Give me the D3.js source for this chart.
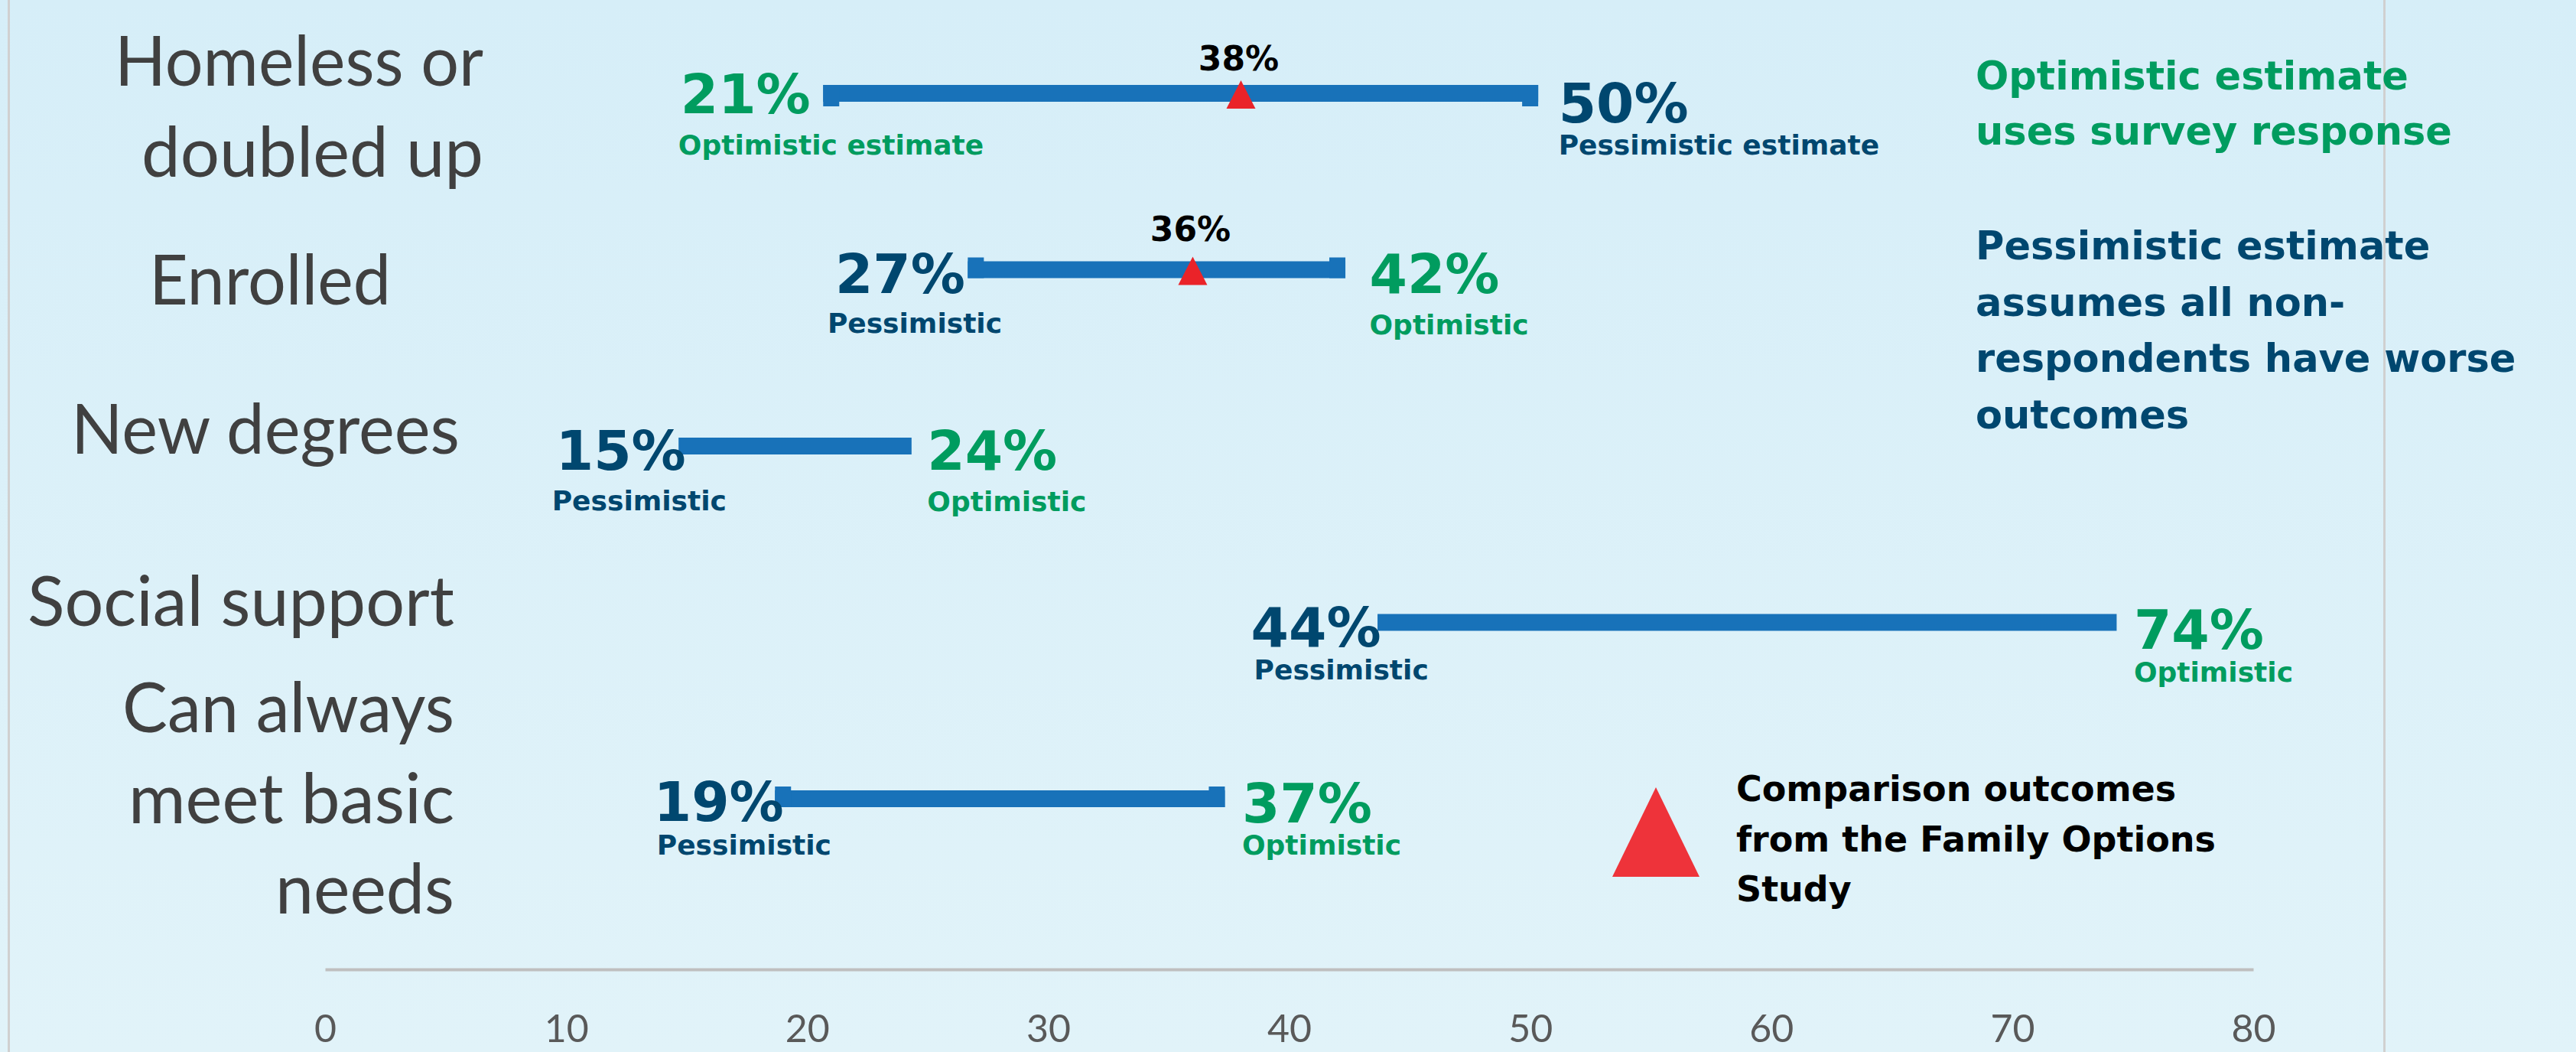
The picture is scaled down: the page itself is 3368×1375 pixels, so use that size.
<!DOCTYPE html>
<html>
<head>
<meta charset="utf-8">
<script src="https://cdn.jsdelivr.net/npm/d3@7"></script>
<style>
  html, body { margin: 0; padding: 0; background: #dbf0f8; }
  svg { display: block; }
</style>
</head>
<body>
<svg id="chart" width="3368" height="1375"></svg>
<script>
// ---------------- DATA ----------------
const categories = ["Homeless or doubled up", "Enrolled", "New degrees", "Social support", "Can always meet basic needs"];
const categoryLines = [["Homeless or", "doubled up"], ["Enrolled"], ["New degrees"], ["Social support"], ["Can always", "meet basic", "needs"]];
const optimistic = [21, 42, 24, 74, 37];
const pessimistic = [50, 27, 15, 44, 19];
const comparison = [38, 36, null, null, null];
const optimisticLabels = ["Optimistic estimate", "Optimistic", "Optimistic", "Optimistic", "Optimistic"];
const pessimisticLabels = ["Pessimistic estimate", "Pessimistic", "Pessimistic", "Pessimistic", "Pessimistic"];
const xTicks = [0, 10, 20, 30, 40, 50, 60, 70, 80];
const noteOptimistic = ["Optimistic estimate", "uses survey response"];
const notePessimistic = ["Pessimistic estimate", "assumes all non-", "respondents have worse", "outcomes"];
const legendLines = ["Comparison outcomes", "from the Family Options", "Study"];

// ---------------- LAYOUT / STYLE ----------------
const W = 3368, H = 1375;
const GREEN = "#009c5f", NAVY = "#00476f", BAR = "#1872b9", RED = "#ea2329", LEGRED = "#ee333a";
const BOLD = "'DejaVu Sans', Verdana, sans-serif";
const CAT = "Lato, 'Open Sans', sans-serif";
const layout = {
  capOffset: [6, -5, 0, 0, -5],
  leftGap: [27, 14, 1, 6, -1],
  rightGap: [37, 42, 31, 33, 33],
  leftBig: [26, 30, 31, 31, 29],
  rightBig: [38, 30, 31, 34, 31],
  leftSmall: [80, 82, 84, 74, 73],
  leftSmallDx: [-3, -10, -5, 4, 4],
  rightSmall: [80, 84, 85, 77, 73],
  cmpDy: [-30, -38],
  catEnd: [632, 511, 601, 594, 594],
  catFirst: [-10, 45, 10, 4, -87],
  catLens: [[482, 447], [316], [508], [558], [434, 426, 234]]
};

const svg = d3.select("#chart");
const defs = svg.append("defs");
const grad = defs.append("linearGradient").attr("id", "bg")
  .attr("x1", 0).attr("y1", 0).attr("x2", 0).attr("y2", 1);
grad.append("stop").attr("offset", "0%").attr("stop-color", "#d6eef8");
grad.append("stop").attr("offset", "100%").attr("stop-color", "#e1f3f9");
svg.append("rect").attr("width", W).attr("height", H).attr("fill", "url(#bg)");

// frame lines
svg.append("rect").attr("x", 10).attr("y", 0).attr("width", 3).attr("height", H).attr("fill", "#d0d0d0");
svg.append("rect").attr("x", 3116).attr("y", 0).attr("width", 3).attr("height", H).attr("fill", "#d0d0d0");

// scales
const x = d3.scaleLinear().domain([0, 80]).range([425, 2946]);
const y = d3.scalePoint().domain(categories).range([122, 1044]);

// axis
const axis = svg.append("g").attr("transform", "translate(0,1267)")
  .call(d3.axisBottom(x).tickValues(xTicks).tickSize(0).tickSizeOuter(0).tickPadding(0));
axis.select(".domain").attr("stroke", "#bfbfbf").attr("stroke-width", 4);
axis.selectAll(".tick text")
  .attr("font-family", CAT).attr("font-size", 50).attr("fill", "#595959")
  .attr("dy", 0).attr("y", 95);

// category labels
const catG = svg.append("g");
categories.forEach((c, i) => {
  const t = catG.append("text")
    .attr("font-family", CAT).attr("font-size", 91).attr("fill", "#404040")
    .attr("text-anchor", "end");
  categoryLines[i].forEach((line, j) => {
    t.append("tspan")
      .attr("x", layout.catEnd[i])
      .attr("y", y(c) + layout.catFirst[i] + j * 118.5)
      .attr("textLength", layout.catLens[i][j])
      .attr("lengthAdjust", "spacingAndGlyphs")
      .text(line);
  });
});

// rows
const rows = categories.map((c, i) => {
  const optLeft = optimistic[i] < pessimistic[i];
  return {
    c, i, cy: y(c),
    lo: Math.min(optimistic[i], pessimistic[i]),
    hi: Math.max(optimistic[i], pessimistic[i]),
    leftColor: optLeft ? GREEN : NAVY,
    rightColor: optLeft ? NAVY : GREEN,
    leftSmall: optLeft ? optimisticLabels[i] : pessimisticLabels[i],
    rightSmall: optLeft ? pessimisticLabels[i] : optimisticLabels[i],
    cmp: comparison[i]
  };
});

// bars
const barG = svg.append("g");
barG.selectAll("rect.bar").data(rows).join("rect").attr("class", "bar")
  .attr("x", d => x(d.lo) - 10.5)
  .attr("width", d => x(d.hi) - x(d.lo) + 21)
  .attr("y", d => d.cy - 11).attr("height", 22)
  .attr("fill", BAR);
const caps = rows.filter(d => layout.capOffset[d.i] !== 0)
  .flatMap(d => [d.lo, d.hi].map(v => ({ v, d })));
barG.selectAll("rect.cap").data(caps).join("rect").attr("class", "cap")
  .attr("x", e => x(e.v) - 10.5).attr("width", 21)
  .attr("y", e => layout.capOffset[e.d.i] < 0 ? e.d.cy - 11 + layout.capOffset[e.d.i] : e.d.cy - 11)
  .attr("height", e => 22 + Math.abs(layout.capOffset[e.d.i]))
  .attr("fill", BAR);

// comparison markers
const tri = (cx, cy, w, h) => `M${cx},${cy - h / 2}L${cx + w / 2},${cy + h / 2}L${cx - w / 2},${cy + h / 2}Z`;
const cmpRows = rows.filter(d => d.cmp != null);
svg.append("g").selectAll("path").data(cmpRows).join("path")
  .attr("d", d => tri(x(d.cmp), d.cy + 1.5, 38, 37))
  .attr("fill", RED);
svg.append("g").selectAll("text").data(cmpRows).join("text")
  .attr("x", d => x(d.cmp) - 3)
  .attr("y", d => d.cy + layout.cmpDy[d.i])
  .attr("text-anchor", "middle")
  .attr("font-family", BOLD).attr("font-weight", "bold").attr("font-size", 44)
  .attr("fill", "#000")
  .text(d => d.cmp + "%");

// value labels
const labG = svg.append("g").attr("font-family", BOLD).attr("font-weight", "bold");
rows.forEach(d => {
  const lt = labG.append("text")
    .attr("x", x(d.lo) - layout.leftGap[d.i])
    .attr("y", d.cy + layout.leftBig[d.i])
    .attr("text-anchor", "end").attr("font-size", 71)
    .attr("fill", d.leftColor).text(d.lo + "%");
  const lw = lt.node().getComputedTextLength();
  labG.append("text")
    .attr("x", x(d.lo) - layout.leftGap[d.i] - lw + layout.leftSmallDx[d.i])
    .attr("y", d.cy + layout.leftSmall[d.i])
    .attr("font-size", 36).attr("fill", d.leftColor).text(d.leftSmall);
  labG.append("text")
    .attr("x", x(d.hi) + layout.rightGap[d.i])
    .attr("y", d.cy + layout.rightBig[d.i])
    .attr("font-size", 71).attr("fill", d.rightColor).text(d.hi + "%");
  labG.append("text")
    .attr("x", x(d.hi) + layout.rightGap[d.i])
    .attr("y", d.cy + layout.rightSmall[d.i])
    .attr("font-size", 36).attr("fill", d.rightColor).text(d.rightSmall);
});

// notes on the right
const noteG = svg.append("g").attr("font-family", BOLD).attr("font-weight", "bold").attr("font-size", 51);
noteG.selectAll("text.opt").data(noteOptimistic).join("text").attr("class", "opt")
  .attr("x", 2583).attr("y", (d, j) => 117 + j * 72).attr("fill", GREEN).text(d => d);
noteG.selectAll("text.pes").data(notePessimistic).join("text").attr("class", "pes")
  .attr("x", 2583).attr("y", (d, j) => 339 + j * 73.7).attr("fill", NAVY).text(d => d);

// legend
svg.append("path").attr("d", tri(2165, 1087.5, 114, 117)).attr("fill", LEGRED);
svg.append("g").attr("font-family", BOLD).attr("font-weight", "bold").attr("font-size", 46)
  .selectAll("text").data(legendLines).join("text")
  .attr("x", 2270).attr("y", (d, j) => 1047 + j * 65.5).attr("fill", "#000").text(d => d);
</script>
</body>
</html>
